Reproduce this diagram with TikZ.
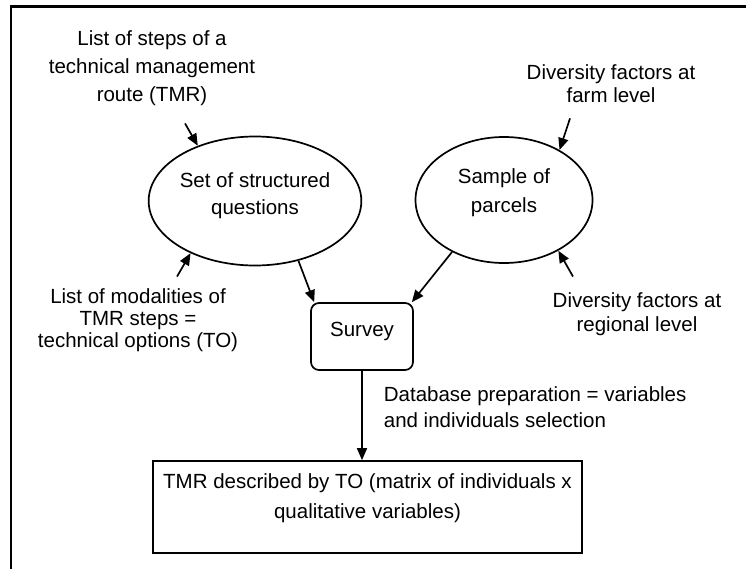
\documentclass[tikz,border=0pt]{standalone}
\usepackage{fontspec}
\setmainfont{Liberation Sans}
\usetikzlibrary{shapes.geometric, arrows.meta}
\newcommand{\padbelow}[1]{\rule[-#1]{0pt}{#1}}
\begin{document}
\begin{tikzpicture}[x=1pt, y=-1pt, line width=1.7pt,
        arr/.style = {-{Triangle[length=12pt, width=10pt]}},
        lbl/.style = {align=center, inner sep=2pt, font=\fontsize{20.5}{#1}\selectfont},
        lbl/.default = 24,
        oval/.style = {draw, ellipse, inner sep=0pt, align=center, font=\fontsize{20.5}{#1}\selectfont},
        surveybox/.style = {draw, rounded corners=8pt, minimum width=102pt, minimum height=67pt, font=\fontsize{20.5}{24}\selectfont},
        resultbox/.style = {draw, minimum width=429pt, minimum height=92pt, align=center, font=\fontsize{20.5}{30}\selectfont}]
        \useasboundingbox (0,0) rectangle (746,568);
        \clip (0,0) rectangle (746,568);
        \draw[line width=2.4pt] (11,6.5) rectangle (770,590);
        \node[lbl=28] (steps) at (152,68) {List of steps of a\\technical management\\route (TMR)};
        \node[lbl=22] (modalities) at (138,320) {List of modalities of\\TMR steps =\\technical options (TO)};
        \node[lbl=23] (farm) at (611,83.5) {Diversity factors at\\farm level};
        \node[lbl=24] (regional) at (637,314) {Diversity factors at\\regional level};
        \node[oval=27, minimum width=186pt, minimum height=129pt] (questions) at (255,201) {Set of structured\\questions\padbelow{15pt}};
        \node[oval=29, minimum width=177pt, minimum height=126pt] (sample) at (504,200) {Sample of\\parcels\padbelow{19pt}};
        \node[surveybox] (survey) at (362,336.5) {Survey\padbelow{15pt}};
        \node[lbl=26, align=left, anchor=west] (prep) at (381,407) {Database preparation = variables\\and individuals selection};
        \node[resultbox] (result) at (367.5,507) {TMR described by TO (matrix of individuals x\\qualitative variables)\padbelow{22pt}};
        \draw[arr] ([xshift=33pt,yshift=-15pt]steps.south) -- (questions.136);
        \draw[arr] ([xshift=39pt,yshift=9pt]modalities.north) -- (questions.219);
        \draw[arr] (questions.-54) -- ([xshift=4pt]survey.north west);
        \draw[arr] (sample.225) -- ([xshift=-2pt]survey.north east);
        \draw[arr] ([xshift=-41pt,yshift=-13pt]farm.south) -- (sample.42);
        \draw[arr] ([xshift=-64pt,yshift=13pt]regional.north) -- (sample.-43);
        \draw[arr] (survey) -- (survey |- result.north);
    \end{tikzpicture}
\end{document}
